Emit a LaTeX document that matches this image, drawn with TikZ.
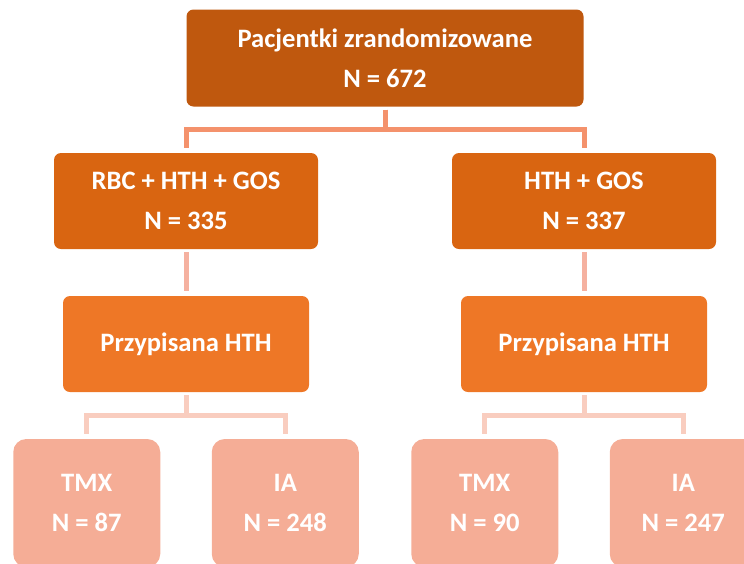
\documentclass[tikz,border=0pt]{standalone}
\usepackage{fontspec}
\setmainfont{Carlito}
\usetikzlibrary{trees}

\definecolor{rootfill}{RGB}{191,88,14}
\definecolor{armfill}{RGB}{217,101,17}
\definecolor{assignfill}{RGB}{238,119,38}
\definecolor{leaffill}{RGB}{245,173,150}
\definecolor{linkone}{RGB}{244,146,108}
\definecolor{linktwo}{RGB}{245,177,160}
\definecolor{linkthree}{RGB}{249,205,191}

\begin{document}
\begin{tikzpicture}[
            x=1pt, y=1pt,
            level distance=143pt,
            edge from parent path={([yshift=-3pt]\tikzparentnode.south) -- ([yshift=-23pt]\tikzparentnode.south) -| ([yshift=5pt]\tikzchildnode.north)},
            level 1/.style={sibling distance=398pt, edge from parent/.style={draw=linkone, line width=5pt}},
            level 2/.style={edge from parent/.style={draw=linktwo, line width=5pt}},
            level 3/.style={sibling distance=198.5pt, level distance=159pt, edge from parent/.style={draw=linkthree, line width=5pt}},
            every node/.style={text=white, font=\bfseries\fontsize{26.6}{40}\selectfont, align=center, inner sep=0pt, rounded corners=7pt},
            rootbox/.style={fill=rootfill, minimum width=397pt, minimum height=97pt},
            armbox/.style={fill=armfill, minimum width=264pt, minimum height=96pt},
            assignbox/.style={fill=assignfill, minimum width=246pt, minimum height=96pt},
            leafbox/.style={fill=leaffill, minimum width=147pt, minimum height=128pt, rounded corners=13pt}]
            \useasboundingbox (0,0) rectangle (744,-563);
            \clip (0,0) rectangle (744,-563);
            \node[rootbox] (root) at (385,-58) {Pacjentki zrandomizowane\\N = 672}
                child {node[armbox] (rbc) {RBC + HTH + GOS\\N = 335}
                    child {node[assignbox] (rbcassign) {Przypisana HTH}
                        child {node[leafbox] (rbctmx) {TMX\\N = 87} }
                        child {node[leafbox] (rbcia) {IA\\N = 248} }
                    }
                }
                child {node[armbox] (hth) {HTH + GOS\\N = 337}
                    child {node[assignbox] (hthassign) {Przypisana HTH}
                        child {node[leafbox] (hthtmx) {TMX\\N = 90} }
                        child {node[leafbox] (hthia) {IA\\N = 247} }
                    }
                };
        \end{tikzpicture}
\end{document}
